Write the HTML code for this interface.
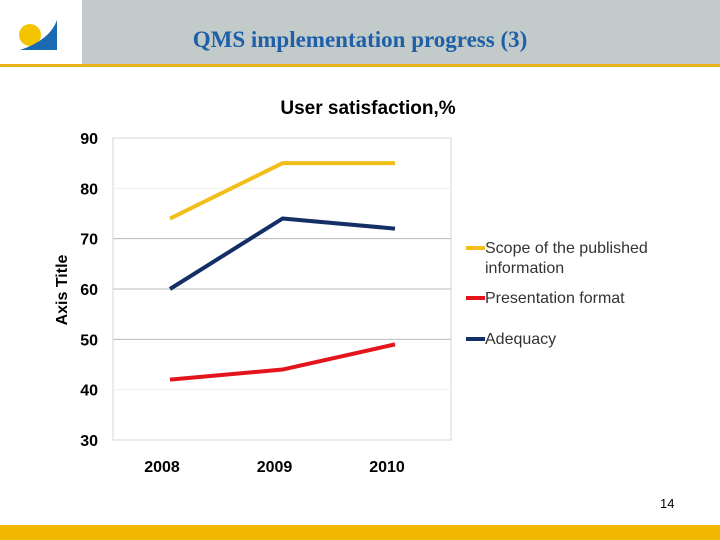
<!DOCTYPE html>
<html><head><meta charset="utf-8"><style>
body{margin:0;width:720px;height:540px;background:#fff;position:relative;overflow:hidden;font-family:"Liberation Sans",sans-serif}
.hdr{position:absolute;left:0;top:0;width:720px;height:64px;background:#c3cbca}
.logo{position:absolute;left:0;top:0;width:82px;height:64px;background:#fff}
.gold{position:absolute;left:0;top:64px;width:720px;height:3px;background:#e8b41a}
.title{position:absolute;left:60px;width:600px;top:27px;text-align:center;font-family:"Liberation Serif",serif;font-weight:bold;font-size:23px;color:#1f5fa8}
.foot{position:absolute;left:0;top:525px;width:720px;height:15px;background:#f0b800}
</style></head><body>
<div class="hdr"></div>
<div class="logo">
<svg width="82" height="64"><circle cx="30" cy="35" r="11" fill="#f5c400"/><path d="M20 50 L57 50 L57 20 Q50 40 20 50 Z" fill="#1a6ab2"/></svg></div>
<div class="title">QMS implementation progress (3)</div>
<div class="gold"></div>
<svg id="c" width="720" height="540" style="position:absolute;left:0;top:0"></svg>
<div style="position:absolute;left:660px;top:496px;font-size:13px">14</div>
<div class="foot"></div>
<script>
const categories=["2008","2009","2010"];
const scopeVals=[74,85,85];
const formatVals=[42,44,49];
const adequacyVals=[60,74,72];
const yTicks=[30,40,50,60,70,80,90];
const seriesNames=["Scope of the published information","Presentation format","Adequacy"];
const NS="http://www.w3.org/2000/svg",svg=document.getElementById('c');
const X0=113,X1=451,Y90=138,Y30=440;
const y=v=>Y30-(v-30)/60*(Y30-Y90);
const x=i=>170+i*112.5;
function mk(t,a,txt){const e=document.createElementNS(NS,t);for(const k in a)e.setAttribute(k,a[k]);if(txt!=null)e.textContent=txt;svg.appendChild(e);return e;}
let e=mk('text',{x:368,y:114,'text-anchor':'middle','font-size':19,'font-weight':'bold'},'User satisfaction,%');


e=mk('rect',{x:X0,y:Y90,width:X1-X0,height:Y30-Y90,fill:'#fff',stroke:'#d0d6d8'});


yTicks.forEach(v=>{
 if(v>30&&v<90){const g=mk('line',{x1:X0,x2:X1,y1:y(v),y2:y(v),stroke:(v==80||v==40)?'#eef0f0':'#b8bcbc'});
 
 }
 const t=mk('text',{x:98,y:y(v)+6,'text-anchor':'end','font-size':16,'font-weight':'bold'},v);
 
 
});
categories.forEach((c,i)=>{const t=mk('text',{x:x(i)-8,y:472,'text-anchor':'middle','font-size':16,'font-weight':'bold'},c);
 
 });
e=mk('text',{x:0,y:0,transform:'translate(67,290) rotate(-90)','text-anchor':'middle','font-size':16,'font-weight':'bold'},'Axis Title');


const series=[[scopeVals,'#f2be1a','scope-line'],[formatVals,'#e3141c','format-line'],[adequacyVals,'#142f66','adequacy-line']];
series.forEach(([vals,col,n])=>{const p=mk('polyline',{points:vals.map((v,i)=>x(i)+','+y(v)).join(' '),fill:'none',stroke:col,'stroke-width':4,'stroke-linejoin':'round'});
 
 });
const leg=[[248,['Scope of the published','information'],'#f2be1a'],[298,['Presentation format'],'#e3141c'],[339,['Adequacy'],'#142f66']];
leg.forEach(([ly,lines,col],k)=>{const l=mk('line',{x1:466,x2:485,y1:ly,y2:ly,stroke:col,'stroke-width':4});
 
 
 lines.forEach((s,j)=>{const t=mk('text',{x:485,y:ly+5+j*20,'font-size':16,fill:'#333'},s);
 
 });});
</script>
</body></html>
